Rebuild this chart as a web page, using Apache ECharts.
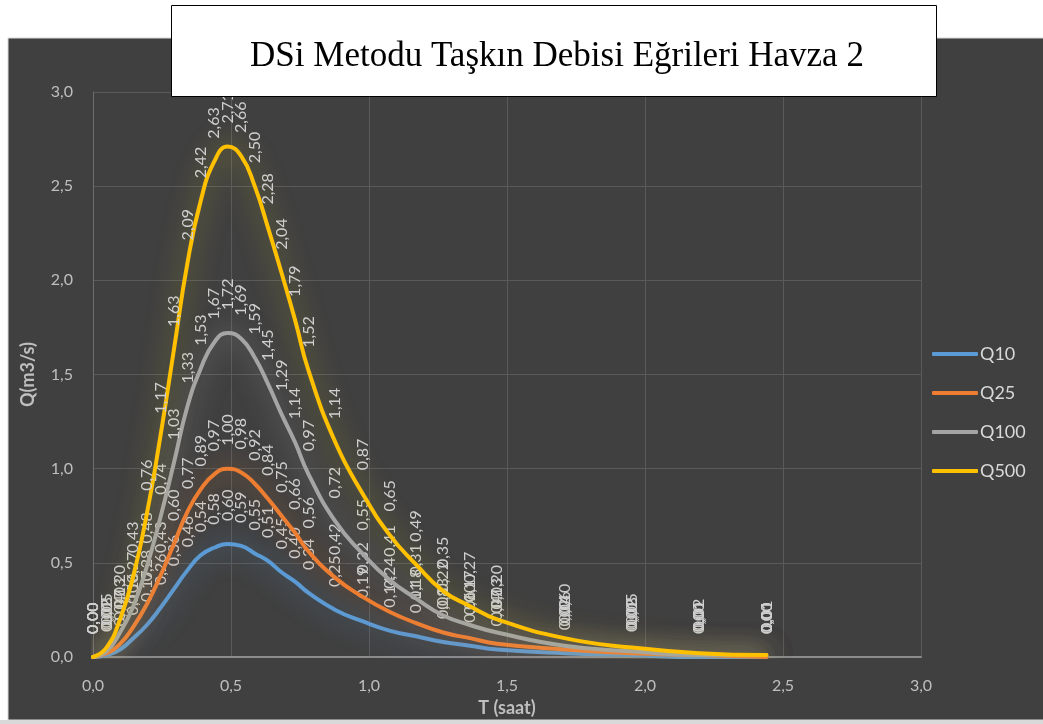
<!DOCTYPE html>
<html>
<head>
<meta charset="utf-8">
<script src="https://cdn.jsdelivr.net/npm/echarts@6/dist/echarts.min.js"></script>
<style>
  html, body { margin: 0; padding: 0; background: #ffffff; }
  #chart { width: 1043px; height: 724px; }
</style>
</head>
<body>
<div id="chart"></div>
<script>
// Hydrograph time ordinates (hours)
const times = [0, 0.049, 0.098, 0.146, 0.195, 0.244, 0.293, 0.342, 0.390, 0.439, 0.488,
  0.537, 0.586, 0.634, 0.683, 0.732, 0.781, 0.878, 0.976, 1.074, 1.171, 1.269, 1.366,
  1.464, 1.708, 1.952, 2.196, 2.440];

// Discharge ordinates (m3/s) for each return period
const q10 = [0.00, 0.01, 0.04, 0.10, 0.17, 0.26, 0.36, 0.46, 0.54, 0.58, 0.60, 0.59, 0.55,
  0.51, 0.45, 0.40, 0.34, 0.25, 0.19, 0.14, 0.11, 0.08, 0.06, 0.04, 0.02, 0.01, 0.00, 0.00];
const q25 = [0.00, 0.02, 0.07, 0.16, 0.28, 0.43, 0.60, 0.77, 0.89, 0.97, 1.00, 0.98, 0.92,
  0.84, 0.75, 0.66, 0.56, 0.42, 0.32, 0.24, 0.18, 0.13, 0.10, 0.07, 0.04, 0.02, 0.01, 0.00];
const q100 = [0.00, 0.03, 0.13, 0.27, 0.48, 0.74, 1.03, 1.33, 1.53, 1.67, 1.72, 1.69, 1.59,
  1.45, 1.29, 1.14, 0.97, 0.72, 0.55, 0.41, 0.31, 0.22, 0.17, 0.13, 0.06, 0.03, 0.01, 0.01];
const q500 = [0.00, 0.05, 0.20, 0.43, 0.76, 1.17, 1.63, 2.09, 2.42, 2.63, 2.71, 2.66, 2.50,
  2.28, 2.04, 1.79, 1.52, 1.14, 0.87, 0.65, 0.49, 0.35, 0.27, 0.20, 0.10, 0.05, 0.02, 0.01];

const seriesNames = ['Q10', 'Q25', 'Q100', 'Q500'];
const seriesValues = [q10, q25, q100, q500];
const seriesColors = ['#5b9bd5', '#ed7d31', '#a5a5a5', '#ffc000'];
const glowColors = ['rgba(91,155,213,0.7)', 'rgba(237,125,49,0.6)', 'rgba(200,200,200,0.55)', 'rgba(215,205,40,0.6)'];

const axisTicks = { min: 0, max: 3, interval: 0.5 };
const comma1 = v => v.toFixed(1).replace('.', ',');
const comma2 = v => v.toFixed(2).replace('.', ',');

const chart = echarts.init(document.getElementById('chart'));

const series = seriesNames.map((name, i) => ({
  name,
  type: 'line',
  data: times.map((t, k) => [t, seriesValues[i][k]]),
  smooth: 0.5,
  showSymbol: true,
  symbol: 'circle',
  symbolSize: 0.01,
  z: 2 + i,
  lineStyle: {
    color: seriesColors[i],
    width: 4,
    cap: 'round',
    join: 'round',
    shadowColor: glowColors[i],
    shadowBlur: 26
  },
  itemStyle: { color: seriesColors[i] },
  label: {
    show: true,
    position: 'top',
    distance: 23,
    rotate: 90,
    align: 'left',
    verticalAlign: 'middle',
    color: '#cfcfcf',
    fontFamily: 'Lato',
    fontSize: 16,
    formatter: p => comma2(p.value[1])
  },
  emphasis: { disabled: true }
}));

const axisLabelStyle = { color: '#bfbfbf', fontFamily: 'Lato', fontSize: 16 };
const axisNameStyle = { color: '#bfbfbf', fontFamily: 'Lato', fontSize: 18, fontWeight: 'bold' };

chart.setOption({
  animation: false,
  backgroundColor: '#ffffff',
  graphic: [
    {
      type: 'rect', z: -10, silent: true,
      shape: { x: 8, y: 38, width: 1040, height: 682 },
      style: { fill: '#404040', stroke: '#d9d9d9', lineWidth: 1 }
    },
    {
      type: 'rect', z: -11, silent: true,
      shape: { x: 0, y: 720, width: 1043, height: 4 },
      style: { fill: '#d9d9d9' }
    },
    {
      type: 'rect', z: 100, silent: true,
      shape: { x: 171.5, y: 5.5, width: 765, height: 91 },
      style: { fill: '#ffffff', stroke: '#000000', lineWidth: 1 }
    }
  ],
  title: {
    text: 'DSi Metodu Taşkın Debisi Eğrileri Havza 2',
    left: 552,
    top: 34,
    textAlign: 'center',
    z: 101,
    textStyle: {
      fontFamily: 'Liberation Serif',
      fontWeight: 'normal',
      fontSize: 35,
      color: '#000000'
    }
  },
  legend: {
    orient: 'vertical',
    left: 927,
    top: 339,
    itemWidth: 46,
    itemHeight: 4,
    itemGap: 19,
    icon: 'roundRect',
    data: seriesNames,
    textStyle: { color: '#d9d9d9', fontFamily: 'Lato', fontSize: 18, lineHeight: 20, padding: [0, 0, 0, -3] }
  },
  grid: {
    left: 93, top: 92, width: 828, height: 565,
    containLabel: false,
    outerBoundsMode: 'none'
  },
  xAxis: {
    type: 'value',
    ...axisTicks,
    name: 'T (saat)',
    nameLocation: 'middle',
    nameGap: 39,
    nameTextStyle: axisNameStyle,
    axisLine: { show: true, lineStyle: { color: '#8c8c8c', width: 2 } },
    axisTick: { show: false },
    axisLabel: { ...axisLabelStyle, margin: 21, formatter: comma1 },
    splitLine: { show: true, lineStyle: { color: '#5a5a5a', width: 1 } }
  },
  yAxis: {
    type: 'value',
    ...axisTicks,
    name: 'Q(m3/s)',
    nameLocation: 'middle',
    nameGap: 56,
    nameTextStyle: axisNameStyle,
    axisLine: { show: true, lineStyle: { color: '#6e6e6e', width: 1 } },
    axisTick: { show: false },
    axisLabel: { ...axisLabelStyle, margin: 20, formatter: comma1 },
    splitLine: { show: true, lineStyle: { color: '#5a5a5a', width: 1 } }
  },
  series
});
</script>
</body>
</html>
